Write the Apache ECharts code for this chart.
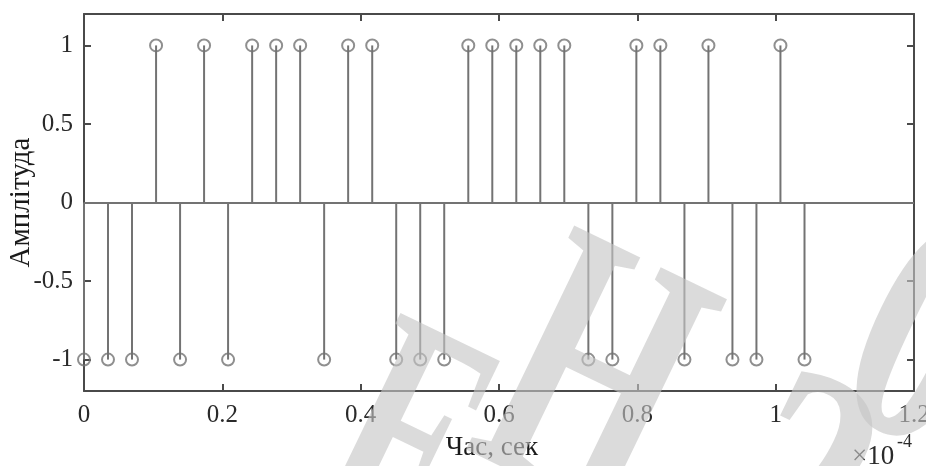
<!DOCTYPE html>
<html>
<head>
<meta charset="utf-8">
<script src="https://cdn.jsdelivr.net/npm/echarts@6/dist/echarts.min.js"></script>
<style>
  html, body { margin: 0; padding: 0; background: #fff; }
  #chart { width: 926px; height: 466px; }
</style>
</head>
<body>
<div id="chart"></div>
<script>
// Sample instants, in units of 1e-4 s
const timeE4 = [
  0, 0.0347, 0.0694, 0.1042, 0.1389, 0.1736, 0.2083, 0.2431, 0.2778, 0.3125,
  0.3472, 0.3819, 0.4167, 0.4514, 0.4861, 0.5208, 0.5556, 0.5903, 0.6250, 0.6597,
  0.6944, 0.7292, 0.7639, 0.7986, 0.8333, 0.8681, 0.9028, 0.9375, 0.9722, 1.0069,
  1.0417
];
// Symbol amplitude at each instant
const amplitude = [
  -1, -1, -1, 1, -1, 1, -1, 1, 1, 1,
  -1, 1, 1, -1, -1, -1, 1, 1, 1, 1,
  1, -1, -1, 1, 1, -1, 1, -1, -1, 1,
  -1
];
// Axis tick labels
const xTickLabels = ['0', '0.2', '0.4', '0.6', '0.8', '1', '1.2'];
const yTickLabels = ['-1', '-0.5', '0', '0.5', '1'];
const xTitle = 'Час, сек';
const yTitle = 'Амплітуда';
const xExponent = ['×10', '-4'];

const points = timeE4.map((t, i) => [t, amplitude[i]]);

const SERIF = '"Liberation Serif", "Times New Roman", serif';
const STEM = '#737373';
const FRAME = '#4a4a4a';
const LABEL = '#2a2a2a';
const MARK = 'rgba(197,197,197,0.62)';

function xLabel(v) {
  const k = Math.round(v / 0.2);
  return Math.abs(v - k * 0.2) < 1e-6 ? (xTickLabels[k] || '') : '';
}
function yLabel(v) {
  const k = Math.round(v * 2);
  return Math.abs(v * 2 - k) < 1e-6 ? (yTickLabels[k + 2] || '') : '';
}

const tickStyle = { inside: true, length: 7, lineStyle: { color: FRAME, width: 2 } };
const lineStyle = { show: true, onZero: false, lineStyle: { color: FRAME, width: 2 } };

const chart = echarts.init(document.getElementById('chart'), null, { renderer: 'canvas' });

function glyph(ch, x, y, size, rot, sx) {
  return {
    type: 'text', x: x, y: y, rotation: rot, scaleX: sx, z: 100, silent: true,
    style: {
      text: ch, fill: MARK,
      font: 'bold ' + size + 'px ' + SERIF,
      align: 'center', verticalAlign: 'middle',
      textAlign: 'center', textVerticalAlign: 'middle'
    }
  };
}

chart.setOption({
  animation: false,
  backgroundColor: '#ffffff',
  grid: { left: 84, right: 12, top: 14, bottom: 75, containLabel: false, outerBoundsMode: 'none' },
  xAxis: [
    {
      type: 'value', min: 0, max: 1.2, interval: 0.2, position: 'bottom',
      axisLine: lineStyle, axisTick: tickStyle, splitLine: { show: false },
      axisLabel: { formatter: xLabel, fontFamily: SERIF, fontSize: 25, color: LABEL, margin: 12 },
      name: xTitle, nameLocation: 'middle', nameGap: 43, nameMoveOverlap: false,
      nameTextStyle: { fontFamily: SERIF, fontSize: 27, color: '#1a1a1a', padding: [0, 14, 0, 0] }
    },
    {
      type: 'value', min: 0, max: 1.2, interval: 0.2, position: 'top',
      axisLine: lineStyle, axisTick: tickStyle, splitLine: { show: false },
      axisLabel: { show: false }
    }
  ],
  yAxis: [
    {
      type: 'value', min: -1.2, max: 1.2, position: 'left',
      axisLine: lineStyle, axisTick: tickStyle, splitLine: { show: false },
      axisLabel: { formatter: yLabel, fontFamily: SERIF, fontSize: 25, color: LABEL, margin: 11 },
      name: yTitle, nameLocation: 'middle', nameGap: 48, nameMoveOverlap: false,
      nameTextStyle: { fontFamily: SERIF, fontSize: 29, color: '#1a1a1a' }
    },
    {
      type: 'value', min: -1.2, max: 1.2, position: 'right',
      axisLine: lineStyle, axisTick: tickStyle, splitLine: { show: false },
      axisLabel: { show: false }
    }
  ],
  series: [
    {
      // stems from the zero line to each sample
      type: 'custom',
      data: points,
      z: 3,
      renderItem: function (params, api) {
        const x = api.value(0), y = api.value(1);
        const p0 = api.coord([x, 0]);
        const p1 = api.coord([x, y]);
        return {
          type: 'line',
          shape: { x1: p0[0], y1: p0[1], x2: p1[0], y2: p1[1] },
          style: { stroke: STEM, lineWidth: 2 }
        };
      }
    },
    {
      // hollow circle markers at the sample tips
      type: 'scatter',
      data: points,
      symbol: 'circle',
      symbolSize: 12,
      z: 4,
      itemStyle: { color: 'rgba(255,255,255,0)', borderColor: STEM, borderWidth: 2 },
      markLine: {
        silent: true,
        symbol: ['none', 'none'],
        label: { show: false },
        lineStyle: { color: STEM, width: 2, type: 'solid' },
        data: [{ yAxis: 0 }]
      }
    }
  ],
  graphic: [
    {
      type: 'text', x: 852, y: 457, z: 50,
      style: { text: xExponent[0], font: '27px ' + SERIF, fill: LABEL,
        align: 'left', verticalAlign: 'middle', textAlign: 'left', textVerticalAlign: 'middle' }
    },
    {
      type: 'text', x: 897, y: 442, z: 50,
      style: { text: xExponent[1], font: '18px ' + SERIF, fill: LABEL,
        align: 'left', verticalAlign: 'middle', textAlign: 'left', textVerticalAlign: 'middle' }
    },
    glyph('Е', 400, 458, 330, -0.45, 0.6),
    glyph('Н', 585, 398, 380, -0.45, 0.6),
    glyph('2', 788, 505, 330, -0.45, 0.75),
    glyph('0', 918, 352, 330, -0.45, 0.75)
  ]
});
</script>
</body>
</html>
